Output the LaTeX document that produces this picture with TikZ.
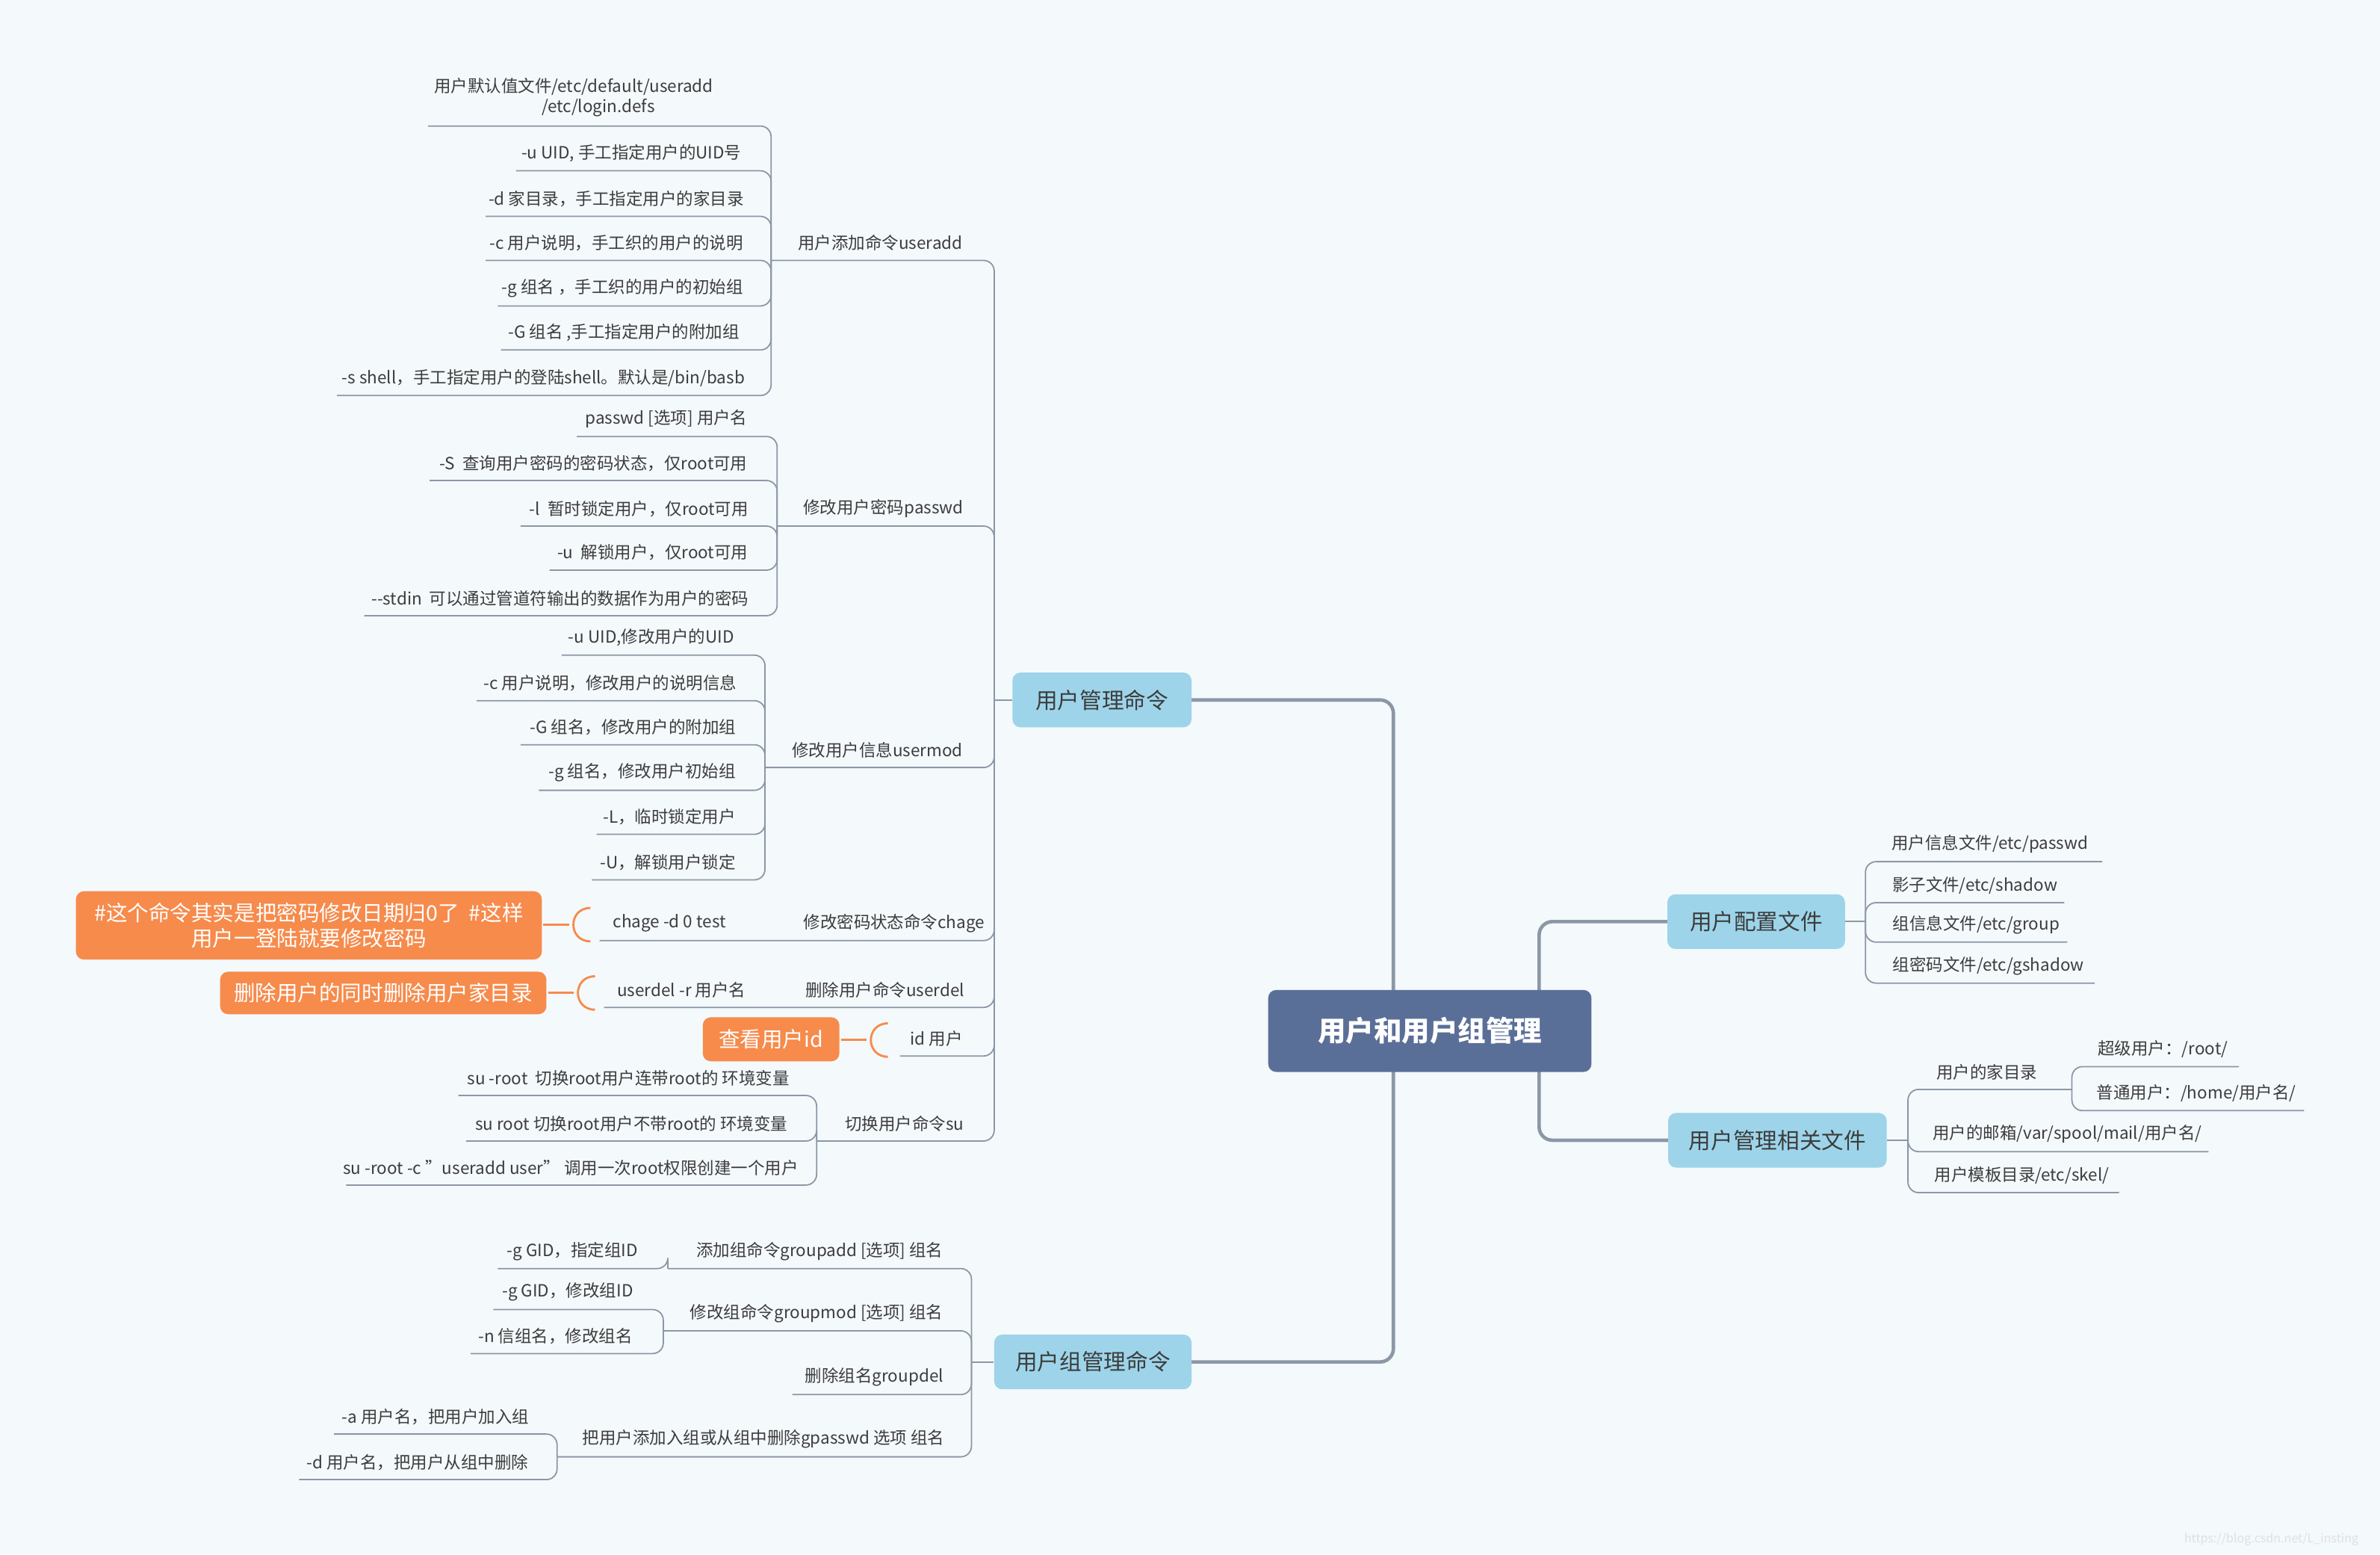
\documentclass[tikz,border=0pt]{standalone}
\usepackage{fontspec}
\setmainfont{Noto Sans CJK SC}
\definecolor{bg}{HTML}{F4F9FC}
\definecolor{ln}{HTML}{8C97A6}
\definecolor{rootc}{HTML}{5A6F98}
\definecolor{boxc}{HTML}{9DD4E9}
\definecolor{orc}{HTML}{F68B4C}
\definecolor{txt}{HTML}{3C3C3C}
\tikzset{
 lf/.style={font=\fontsize{6.3}{7.6}\selectfont,text=txt,inner sep=0pt,align=center},
 br/.style={draw=ln,line width=0.5pt,rounded corners=4pt},
 main/.style={draw=ln,line width=1.3pt,rounded corners=5pt},
 topic/.style={fill=boxc,rounded corners=3pt,text=txt,font=\fontsize{8.3}{10}\selectfont,inner sep=0pt},
 orange/.style={fill=orc,rounded corners=3pt,text=white,font=\fontsize{8}{9.6}\selectfont,inner sep=0pt,align=center},
 hook/.style={draw=orc,line width=0.8pt},
}
\newcommand\lfx[6]{\node[lf] at (#1,#2) {#3};\draw[br] (#4,#2+11.5) -- (#5,#2+11.5) -- (#5,#6);}
\newcommand\hk[2]{\draw[hook] (#1,#2) -- (#1+17,#2); \draw[hook] (#1+31,#2-11) .. controls (#1+16,#2-11) and (#1+16,#2+11) .. (#1+31,#2+11);}
\begin{document}
\begin{tikzpicture}[x=0.02cm,y=-0.02cm]
\fill[bg] (0,0) rectangle (1568,1023.7);
\useasboundingbox (0,0) rectangle (1568,1023.7);
% main connectors
\draw[main] (785,461) -- (918,461) -- (918,897) -- (785,897);
\draw[main] (1099,607) -- (1014,607) -- (1014,751) -- (1099,751);
\node[fill=rootc,rounded corners=3pt,inner sep=0pt,text=white,font=\fontsize{10.5}{12}\selectfont\bfseries,minimum width=4.26cm,minimum height=1.08cm] (root) at (942,679) {用户和用户组管理};
\node[topic,minimum width=2.36cm,minimum height=0.72cm] (A) at (726,461) {用户管理命令};
\node[topic,minimum width=2.6cm,minimum height=0.72cm] (B) at (720,897) {用户组管理命令};
\node[topic,minimum width=2.34cm,minimum height=0.72cm] (C) at (1157,607) {用户配置文件};
\node[topic,minimum width=2.88cm,minimum height=0.72cm] (D) at (1171,751) {用户管理相关文件};
% branch A
\draw[br] (A.west) -- (655,461);
\lfx{580}{160}{用户添加命令useradd}{508}{655}{461}
\lfx{582}{335}{修改用户密码passwd}{512}{655}{461}
\lfx{578}{494}{修改用户信息usermod}{504}{655}{461}
\lfx{589}{608}{修改密码状态命令chage}{395}{655}{461}
\lfx{583}{652}{删除用户命令userdel}{398}{655}{461}
\lfx{617}{684}{id 用户}{593}{655}{461}
\lfx{596}{740}{切换用户命令su}{538}{655}{461}
% useradd
\node[lf,align=left] at (378,64) {用户默认值文件/etc/default/useradd\\\hspace*{6.4em}/etc/login.defs};
\draw[br] (282,83) -- (508,83) -- (508,172);
\lfx{416}{101}{-u UID, 手工指定用户的UID号}{340}{508}{172}
\lfx{406}{131}{-d 家目录，手工指定用户的家目录}{320}{508}{172}
\lfx{406}{160}{-c 用户说明，手工织的用户的说明}{320}{508}{172}
\lfx{410}{190}{-g 组名 ，手工织的用户的初始组}{328}{508}{172}
\lfx{411}{219}{-G 组名 ,手工指定用户的附加组}{330}{508}{172}
\lfx{358}{249}{-s shell，手工指定用户的登陆shell。默认是/bin/basb}{222}{508}{172}
% passwd
\lfx{439}{276}{passwd [选项] 用户名}{380}{512}{347}
\lfx{391}{305}{-S\ \ 查询用户密码的密码状态，仅root可用}{283}{512}{347}
\lfx{421}{335}{-l\ \ 暂时锁定用户，仅root可用}{343}{512}{347}
\lfx{430}{364}{-u\ \ 解锁用户，仅root可用}{362}{512}{347}
\lfx{369}{394}{{-}{-}stdin\ \ 可以通过管道符输出的数据作为用户的密码}{240}{512}{347}
% usermod
\lfx{429}{420}{-u UID,修改用户的UID}{370}{504}{506}
\lfx{402}{450}{-c 用户说明，修改用户的说明信息}{314}{504}{506}
\lfx{417}{479}{-G 组名，修改用户的附加组}{343}{504}{506}
\lfx{423}{509}{-g 组名，修改用户初始组}{355}{504}{506}
\lfx{441}{538}{-L，临时锁定用户}{393}{504}{506}
\lfx{440}{568}{-U，解锁用户锁定}{390}{504}{506}
% chage, userdel, id
\node[lf] (c1) at (441,608) {chage -d 0 test};
\node[lf] (c2) at (449,652) {userdel -r 用户名};
\node[orange,minimum width=6.14cm,minimum height=0.9cm] (o1) at (203.5,609.5) {\#这个命令其实是把密码修改日期归0了\ \ \#这样\\用户一登陆就要修改密码};
\node[orange,minimum width=4.3cm,minimum height=0.56cm] (o2) at (252.5,654) {删除用户的同时删除用户家目录};
\node[orange,minimum width=1.8cm,minimum height=0.58cm] (o3) at (508,684.5) {查看用户id};
\hk{358}{609}
\hk{361}{654}
\hk{554}{685}
% su
\lfx{414}{710}{su -root\ \ 切换root用户连带root的 环境变量}{302}{538}{751}
\lfx{416}{740}{su root 切换root用户不带root的 环境变量}{307}{538}{751}
\lfx{376}{769}{su -root -c \char34useradd user\char34\ 调用一次root权限创建一个用户}{228}{538}{751}
% branch B
\draw[br] (B.west) -- (640,897);
\lfx{540}{824}{添加组命令groupadd [选项] 组名}{440}{640}{897}
\lfx{538}{865}{修改组命令groupmod [选项] 组名}{437}{640}{897}
\lfx{576}{907}{删除组名groupdel}{522}{640}{897}
\lfx{503}{948}{把用户添加入组或从组中删除gpasswd 选项 组名}{367}{640}{897}
\lfx{377}{824}{-g GID，指定组ID}{328}{440}{835.5}
\lfx{374}{851}{-g GID，修改组ID}{325}{437}{876.5}
\lfx{366}{880}{-n 信组名，修改组名}{310}{437}{876.5}
\lfx{287}{933}{-a 用户名，把用户加入组}{220}{367}{959.5}
\lfx{275}{963}{-d 用户名，把用户从组中删除}{197}{367}{959.5}
% branch C
\draw[br] (C.east) -- (1229,607);
\newcommand\rlf[5]{\node[lf] at (#1,#2) {#3};\draw[br] (#5,#2+11.5) -- (#4,#2+11.5) -- (#4,607);}
\rlf{1311}{556}{用户信息文件/etc/passwd}{1229}{1385}
\rlf{1301}{583}{影子文件/etc/shadow}{1229}{1360}
\rlf{1302}{609}{组信息文件/etc/group}{1229}{1362}
\rlf{1310}{636}{组密码文件/etc/gshadow}{1229}{1380}
% branch D
\draw[br] (D.east) -- (1257,751);
\newcommand\dlf[6]{\node[lf] at (#1,#2) {#3};\draw[br] (#5,#2+11.5) -- (#4,#2+11.5) -- (#4,#6);}
\dlf{1309}{706}{用户的家目录}{1257}{1365}{751}
\dlf{1362}{747}{用户的邮箱/var/spool/mail/用户名/}{1257}{1455}{751}
\dlf{1332}{774}{用户模板目录/etc/skel/}{1257}{1396}{751}
\dlf{1425}{691}{超级用户：/root/}{1365}{1475}{717.5}
\dlf{1447}{720}{普通用户：/home/用户名/}{1365}{1518}{717.5}
\node[font=\fontsize{4.5}{5}\selectfont,text=black!12,anchor=east] at (1560,1014) {https://blog.csdn.net/L\_insting};
\end{tikzpicture}
\end{document}
